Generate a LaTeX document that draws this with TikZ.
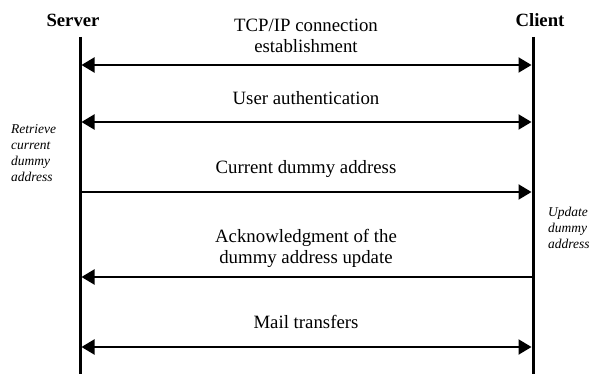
\documentclass[tikz,border=0pt]{standalone}
\usepackage{fontspec}
\setmainfont{Liberation Serif}
\usetikzlibrary{arrows.meta}

\begin{document}
\begin{tikzpicture}[x=1pt,y=-1pt,
  lifeline/.style={line width=3pt},
  msg/.style={line width=2.2pt, shorten <=1.5pt, shorten >=1.5pt},
  party/.style={font=\fontsize{18.7}{22}\selectfont\bfseries, anchor=base, inner sep=0pt},
  msglabel/.style={font=\fontsize{18.8}{21.3}\selectfont, align=center, anchor=base, inner sep=0pt},
  note/.style={font=\fontsize{13.5}{16.2}\selectfont\itshape, align=left, anchor=base west, inner sep=0pt}]
  \useasboundingbox (0,0) rectangle (592,374);

  % parties
  \node[party] (server) at (73,27) {Server};
  \node[party] (client) at (540,27) {Client};

  % lifelines
  \coordinate (stop)  at (80,37);
  \coordinate (sbot)  at (80,374);
  \coordinate (ctop)  at (533,37);
  \coordinate (cbot)  at (533,374);
  \draw[lifeline] (stop) -- (sbot);
  \draw[lifeline] (ctop) -- (cbot);

  % message anchor points on each lifeline
  \foreach \n/\y in {a/65, b/122, c/192, d/277, e/347} {
    \coordinate (s\n) at (80,\y);
    \coordinate (c\n) at (533,\y);
  }

  % messages
  \draw[msg, {Triangle[length=13pt,width=15pt]}-{Triangle[length=13pt,width=15pt]}] (sa) -- (ca);
  \draw[msg, {Triangle[length=13pt,width=15pt]}-{Triangle[length=13pt,width=15pt]}] (sb) -- (cb);
  \draw[msg, -{Triangle[length=13pt,width=15pt]}] (sc) -- (cc);
  \draw[msg, -{Triangle[length=13pt,width=15pt]}] (cd) -- (sd);
  \draw[msg, {Triangle[length=13pt,width=15pt]}-{Triangle[length=13pt,width=15pt]}] (se) -- (ce);

  % message labels (base anchor = baseline of the last line)
  \node[msglabel] (la) at (306,53) {TCP/IP connection\\establishment};
  \node[msglabel] (lb) at (306,105) {User authentication};
  \node[msglabel] (lc) at (306,174) {Current dummy address};
  \node[msglabel] (ld) at (306,264) {Acknowledgment of the\\dummy address update};
  \node[msglabel] (le) at (306,328) {Mail transfers};

  % side notes
  \node[note] (retrieve) at (11,182) {Retrieve\\current\\dummy\\address};
  \node[note] (update) at (548,249) {Update\\dummy\\address};
\end{tikzpicture}
\end{document}
